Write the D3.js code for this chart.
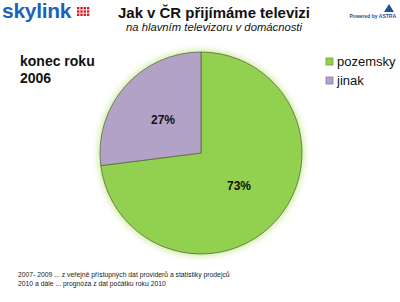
<!DOCTYPE html>
<html>
<head>
<meta charset="utf-8">
<script src="https://d3js.org/d3.v7.min.js"></script>
<style>
	body { margin: 0; background: #fff; }
	text { font-family: Arial, "Liberation Sans", sans-serif; }
</style>
</head>
<body>
<svg width="400" height="302"></svg>
<script>
var categories = ["pozemsky", "jinak"];
var values = [73, 27];
var labels = ["73%", "27%"];
var colors = ["#92d050", "#b3a2c7"];
var footnotes = ["2007- 2009 ... z veřejně přístupných dat providerů a statistiky prodejců",
	"2010 a dále ... prognóza z dat počátku roku 2010"];

var svg = d3.select("svg");
var cx = 201, cy = 153, r = 101;

// header
svg.append("text").attr("x", 2).attr("y", 18)
	.attr("font-size", 21).attr("font-weight", "bold").attr("fill", "#1a63bf")
	.attr("letter-spacing", -0.3).text("skylink");
var dotPos = [];
for (var i = 0; i < 4; i++) for (var j = 0; j < 3; j++) dotPos.push([i, j]);
svg.selectAll(".dot").data(dotPos).enter().append("rect")
	.attr("x", function(d) { return 77 + d[0] * 3.3; })
	.attr("y", function(d) { return 7 + d[1] * 3.3; })
	.attr("width", 2.4).attr("height", 2.4).attr("fill", "#d42020");

svg.append("text").attr("x", 214).attr("y", 18).attr("text-anchor", "middle")
	.attr("font-size", 15.5).attr("font-weight", "bold").attr("fill", "#111")
	.attr("textLength", 192).attr("lengthAdjust", "spacingAndGlyphs")
	.text("Jak v ČR přijímáme televizi");
svg.append("text").attr("x", 214).attr("y", 31).attr("text-anchor", "middle")
	.attr("font-size", 11).attr("font-style", "italic").attr("fill", "#111")
	.attr("textLength", 176).attr("lengthAdjust", "spacingAndGlyphs")
	.text("na hlavním televizoru v domácnosti");

svg.append("path").attr("d", "M389,4 L384,12 L394,12 Z").attr("fill", "#1f4f9a");
svg.append("text").attr("x", 396).attr("y", 18).attr("text-anchor", "end")
	.attr("font-size", 5).attr("font-weight", "bold").attr("fill", "#1f4f9a")
	.text("Powered by ASTRA");

svg.append("text").attr("x", 20).attr("y", 66).attr("font-size", 14)
	.attr("font-weight", "bold").attr("fill", "#111").text("konec roku");
svg.append("text").attr("x", 20).attr("y", 83).attr("font-size", 14)
	.attr("font-weight", "bold").attr("fill", "#111").text("2006");

// pie
var defs = svg.append("defs");
var glow = defs.append("filter").attr("id", "glow").attr("x", "-20%").attr("y", "-20%")
	.attr("width", "140%").attr("height", "140%");
glow.append("feGaussianBlur").attr("stdDeviation", 3);

svg.append("circle").attr("cx", cx).attr("cy", cy).attr("r", r + 2)
	.attr("fill", "#cdeaa0").attr("filter", "url(#glow)");

var pie = d3.pie().sort(null).startAngle(0).endAngle(2 * Math.PI);
var arcs = pie(values);
var arc = d3.arc().innerRadius(0).outerRadius(r);
var g = svg.append("g").attr("transform", "translate(" + cx + "," + cy + ")");

g.selectAll(".slice").data(arcs).enter().append("path")
	.attr("d", arc)
	.attr("fill", function(d, i) { return colors[i]; })
	.attr("stroke", "#5a6a3a").attr("stroke-width", 0.8).attr("stroke-linejoin", "round");

var labelPos = [[38, 33], [-38, -33]];
g.selectAll(".lbl").data(arcs).enter().append("text")
	.attr("x", function(d, i) { return labelPos[i][0]; })
	.attr("y", function(d, i) { return labelPos[i][1]; })
	.attr("text-anchor", "middle").attr("dy", "0.35em")
	.attr("font-size", 12).attr("font-weight", "bold").attr("fill", "#111")
	.text(function(d, i) { return labels[i]; });

// legend
var leg = svg.selectAll(".leg").data(categories).enter().append("g")
	.attr("transform", function(d, i) { return "translate(326," + (58 + i * 19) + ")"; });
leg.append("rect").attr("width", 7).attr("height", 7)
	.attr("fill", function(d, i) { return colors[i]; })
	.attr("stroke", function(d, i) { return i ? "#8a7aa6" : "#6aa030"; }).attr("stroke-width", 0.8);
leg.append("text").attr("x", 11).attr("y", 7.5).attr("font-size", 13).attr("fill", "#111")
	.text(function(d) { return d; });

// footnotes
svg.selectAll(".fn").data(footnotes).enter().append("text")
	.attr("x", 18).attr("y", function(d, i) { return 277 + i * 9; })
	.attr("font-size", 6.8).attr("fill", "#222")
	.text(function(d) { return d; });
</script>
</body>
</html>
